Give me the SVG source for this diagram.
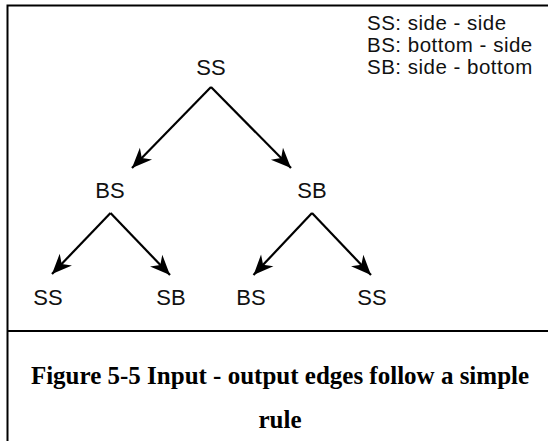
<svg xmlns="http://www.w3.org/2000/svg" width="548" height="441" viewBox="0 0 548 441">
  <style>
    .frame { fill: none; stroke: #000; stroke-width: 2; }
    .label { font-family: "Liberation Sans", Arial, sans-serif; font-size: 22px; fill: #111; text-anchor: middle; }
    .legend { font-family: "Liberation Sans", Arial, sans-serif; font-size: 20.5px; letter-spacing: 0.5px; fill: #111; }
    .caption { font-family: "Liberation Serif", "Times New Roman", serif; font-size: 25px; font-weight: bold; fill: #000; text-anchor: middle; }
    .edge { stroke: #000; stroke-width: 2.2; fill: none; marker-end: url(#head); }
  </style>
  <defs>
    <marker id="head" markerUnits="userSpaceOnUse" markerWidth="24" markerHeight="20" viewBox="-21 -10 23 20" refX="0" refY="0" orient="auto">
      <path d="M0,0 L-20,-8.5 L-14,0 L-20,8.5 Z" fill="#000"/>
    </marker>
  </defs>
  <rect width="548" height="441" fill="#fff"/>

  <!-- frame: drawing panel and caption panel -->
  <path class="frame" d="M7.5,441 V5.5 H548"/>
  <path class="frame" d="M7.5,331 H548"/>

  <!-- legend -->
  <g id="legend">
    <text class="legend" x="367" y="30">SS: side - side</text>
    <text class="legend" x="367" y="52">BS: bottom - side</text>
    <text class="legend" x="367" y="74">SB: side - bottom</text>
  </g>

  <!-- tree nodes -->
  <g id="root"><text class="label" x="211" y="75">SS</text></g>
  <g id="n-bs"><text class="label" x="110" y="198">BS</text></g>
  <g id="n-sb"><text class="label" x="312" y="198">SB</text></g>
  <g id="n-bs-ss"><text class="label" x="48" y="305">SS</text></g>
  <g id="n-bs-sb"><text class="label" x="171" y="305">SB</text></g>
  <g id="n-sb-bs"><text class="label" x="251" y="305">BS</text></g>
  <g id="n-sb-ss"><text class="label" x="372" y="305">SS</text></g>

  <!-- connectors -->
  <g id="edges">
    <path class="edge" d="M211,87 L132,168"/>
    <path class="edge" d="M211,87 L291,168"/>
    <path class="edge" d="M110.5,213 L52,274"/>
    <path class="edge" d="M110.5,213 L170,275"/>
    <path class="edge" d="M312,213 L253.5,275"/>
    <path class="edge" d="M312,213 L371,275"/>
  </g>

  <!-- caption -->
  <g id="caption">
    <text class="caption" x="280" y="384">Figure 5-5 Input - output edges follow a simple</text>
    <text class="caption" x="280" y="428">rule</text>
  </g>
</svg>
